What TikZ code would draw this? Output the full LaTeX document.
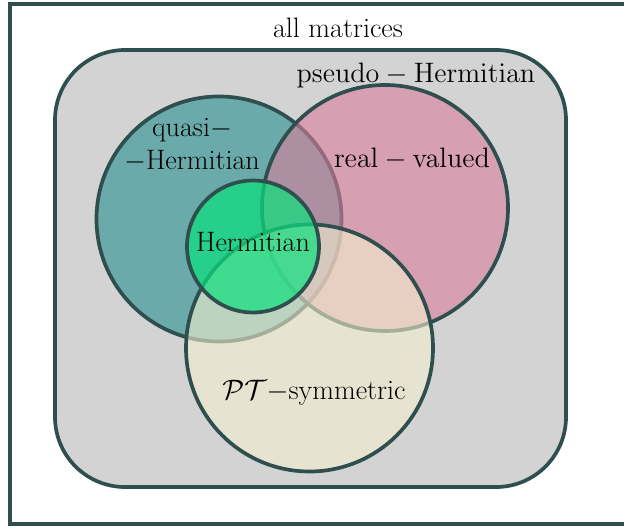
\documentclass[tikz,border=0pt]{standalone}
\usepackage{fix-cm}
\usepackage{tikz}
\definecolor{matslate}{RGB}{47,79,79}
\definecolor{matgray}{RGB}{211,211,211}
\definecolor{matteal}{RGB}{39,143,143}
\definecolor{matpink}{RGB}{216,126,156}
\definecolor{matbeige}{RGB}{243,239,206}
\definecolor{matgreen}{RGB}{10,225,125}

\begin{document}
\begin{tikzpicture}[every node/.style={font=\fontsize{16}{19}\selectfont,align=center},
  setline/.style={matslate,line width=2.1pt},
  setfill/.style={setline,fill opacity=0.6}]
\useasboundingbox (0,0) rectangle (12.48,10.54);
\draw[setline,fill=white] (0.2,0.06) rectangle (12.9,10.46);
\draw[setline,fill=matgray,rounded corners=1.4cm] (1.1,0.8) rectangle (11.32,9.54);
% sets
\draw[setfill,fill=matteal] (4.38,6.16) circle (2.45);
\draw[setfill,fill=matpink] (7.7,6.38) circle (2.46);
\draw[setfill,fill=matbeige] (6.19,3.58) circle (2.47);
\draw[setfill,fill=matgreen,fill opacity=0.7] (5.06,5.61) circle (1.32);
% labels
\node (all) at (6.76,9.98) {all matrices};
\node (pseudo) at (8.32,9.04) {$\mathrm{pseudo}-\mathrm{Hermitian}$};
\node (quasi) at (3.84,7.64) {quasi$-$\\$-$Hermitian};
\node (real) at (8.24,7.36) {$\mathrm{real}-\mathrm{valued}$};
\node (herm) at (5.06,5.7) {Hermitian};
\node (pt) at (6.28,2.68) {$\mathcal{PT}-$symmetric};
\end{tikzpicture}
\end{document}
